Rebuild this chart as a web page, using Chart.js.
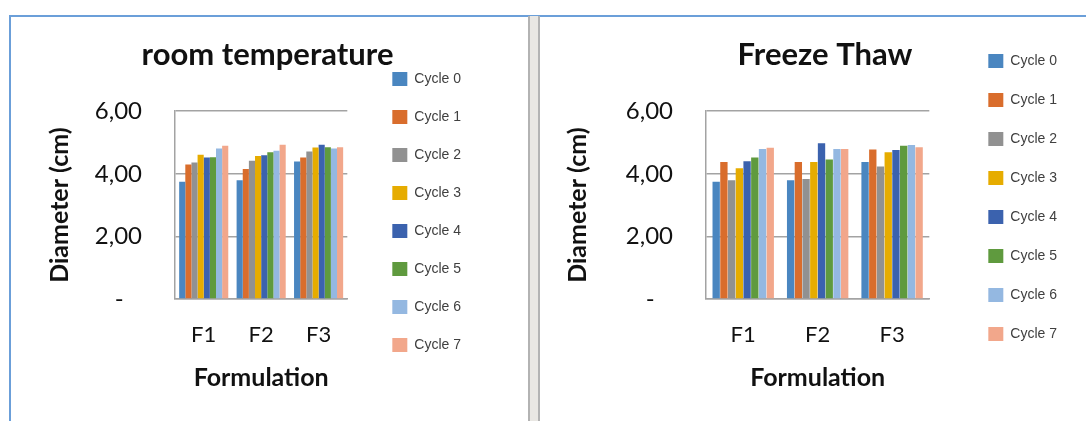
<!DOCTYPE html>
<html>
<head>
<meta charset="utf-8">
<script src="https://cdn.jsdelivr.net/npm/chart.js@4/dist/chart.umd.min.js"></script>
<style>
  html, body { margin: 0; padding: 0; background: #fff; }
  body { width: 1086px; height: 421px; position: relative; overflow: hidden; }
  .line-top { position: absolute; left: 9px; top: 15px; width: 1077px; height: 2px; background: #6b9fd9; }
  .line-left { position: absolute; left: 9px; top: 15px; width: 2px; height: 406px; background: #6b9fd9; }
  .divider { position: absolute; left: 528px; top: 16px; width: 8px; height: 405px; background: #e9e7e3;
             border-left: 2px solid #b3b3b3; border-right: 2px solid #b3b3b3; }
  canvas { position: absolute; top: 0; }
  #roomChart { left: 0; }
  #freezeChart { left: 539px; }
</style>
</head>
<body>
<div class="line-top"></div>
<div class="line-left"></div>
<div class="divider"></div>
<canvas id="roomChart" width="527" height="421"></canvas>
<canvas id="freezeChart" width="547" height="421"></canvas>
<script>
// diameter (cm) per cycle, one row per cycle, columns F1..F3
var formulations = ['F1', 'F2', 'F3'];
var cycleLabels = ['Cycle 0', 'Cycle 1', 'Cycle 2', 'Cycle 3', 'Cycle 4', 'Cycle 5', 'Cycle 6', 'Cycle 7'];
var yTicks = [0, 2, 4, 6];

var roomTemp = [
    [3.75, 3.79, 4.39],
    [4.30, 4.15, 4.52],
    [4.36, 4.42, 4.71],
    [4.61, 4.57, 4.84],
    [4.52, 4.59, 4.93],
    [4.53, 4.69, 4.85],
    [4.81, 4.74, 4.81],
    [4.90, 4.93, 4.85]
];
var freezeThaw = [
    [3.75, 3.79, 4.38],
    [4.38, 4.38, 4.78],
    [3.79, 3.83, 4.23],
    [4.18, 4.38, 4.69],
    [4.40, 4.98, 4.76],
    [4.52, 4.46, 4.90],
    [4.79, 4.79, 4.92],
    [4.83, 4.79, 4.85]
];

var cycleColors = ['#4a86c0', '#d96d2c', '#919191', '#e6ac00', '#3b62ae', '#5f9a3e', '#94b8e1', '#f2a78b'];

var GRID = '#a3a3a3';
var CAL = 'Lato, "Open Sans", sans-serif';

function makeChart(id, title, rows, opts) {
    var datasets = rows.map(function (vals, i) {
        return {
            label: cycleLabels[i],
            data: vals,
            backgroundColor: cycleColors[i],
            barPercentage: opts.barPct,
            categoryPercentage: opts.catPct
        };
    });
    return new Chart(document.getElementById(id), {
        type: 'bar',
        data: { labels: formulations, datasets: datasets },
        options: {
            responsive: false,
            animation: false,
            layout: { padding: opts.padding },
            scales: {
                x: {
                    grid: { display: false, drawTicks: false },
                    border: { color: GRID, width: 1.5 },
                    ticks: { color: '#111', padding: 23, font: { family: CAL, size: 22 } },
                    title: { display: true, text: 'Formulation', color: '#111',
                             padding: { top: 0, bottom: 2 }, font: { family: CAL, size: 25, weight: 'bold' } },
                    afterFit: function (s) { s.height = 96; }
                },
                y: {
                    min: 0, max: 6,
                    afterBuildTicks: function (s) { s.ticks = yTicks.map(function (v) { return { value: v }; }); },
                    grid: { color: GRID, lineWidth: 1.5, drawTicks: false },
                    border: { color: GRID, width: 1.5 },
                    ticks: {
                        color: '#111', padding: 33, font: { family: CAL, size: 24 },
                        callback: function (v) { return v === 0 ? '-   ' : v.toFixed(2).replace('.', ','); }
                    },
                    title: { display: true, text: 'Diameter (cm)', color: '#111',
                             padding: { top: opts.yTitleTop, bottom: 0 }, font: { family: CAL, size: 25, weight: 'bold' } },
                    afterFit: function (s) { s.width = opts.yWidth; }
                },
                // empty spacer between plot area and legend
                gap: {
                    type: 'linear', position: 'right', display: true,
                    grid: { display: false, drawTicks: false },
                    border: { display: false },
                    ticks: { display: false },
                    afterFit: function (s) { s.width = opts.gap; }
                }
            },
            plugins: {
                title: {
                    display: true, text: title, color: '#111',
                    padding: opts.titlePad,
                    font: { family: CAL, size: 31, weight: 'bold' }
                },
                legend: {
                    position: 'right',
                    maxWidth: 140,
                    labels: {
                        boxWidth: 15, boxHeight: 14, padding: opts.legendPad, color: '#404040',
                        font: { family: '"Liberation Sans", Arial, sans-serif', size: 14 }
                    }
                },
                tooltip: { enabled: false }
            }
        }
    });
}

makeChart('roomChart', 'room temperature', roomTemp, {
    padding: { left: 64, right: 56, top: 29, bottom: 26 },
    titlePad: { top: 7, bottom: 38 },
    yWidth: 111, yTitleTop: -19, gap: 21,
    legendPad: 24, catPct: 0.855, barPct: 1
});
makeChart('freezeChart', 'Freeze Thaw', freezeThaw, {
    padding: { left: 44, right: 19, top: 0, bottom: 26 },
    titlePad: { top: 36, bottom: 38 },
    yWidth: 123, yTitleTop: -20, gap: 34,
    legendPad: 25, catPct: 0.83, barPct: 0.95
});
</script>
</body>
</html>
